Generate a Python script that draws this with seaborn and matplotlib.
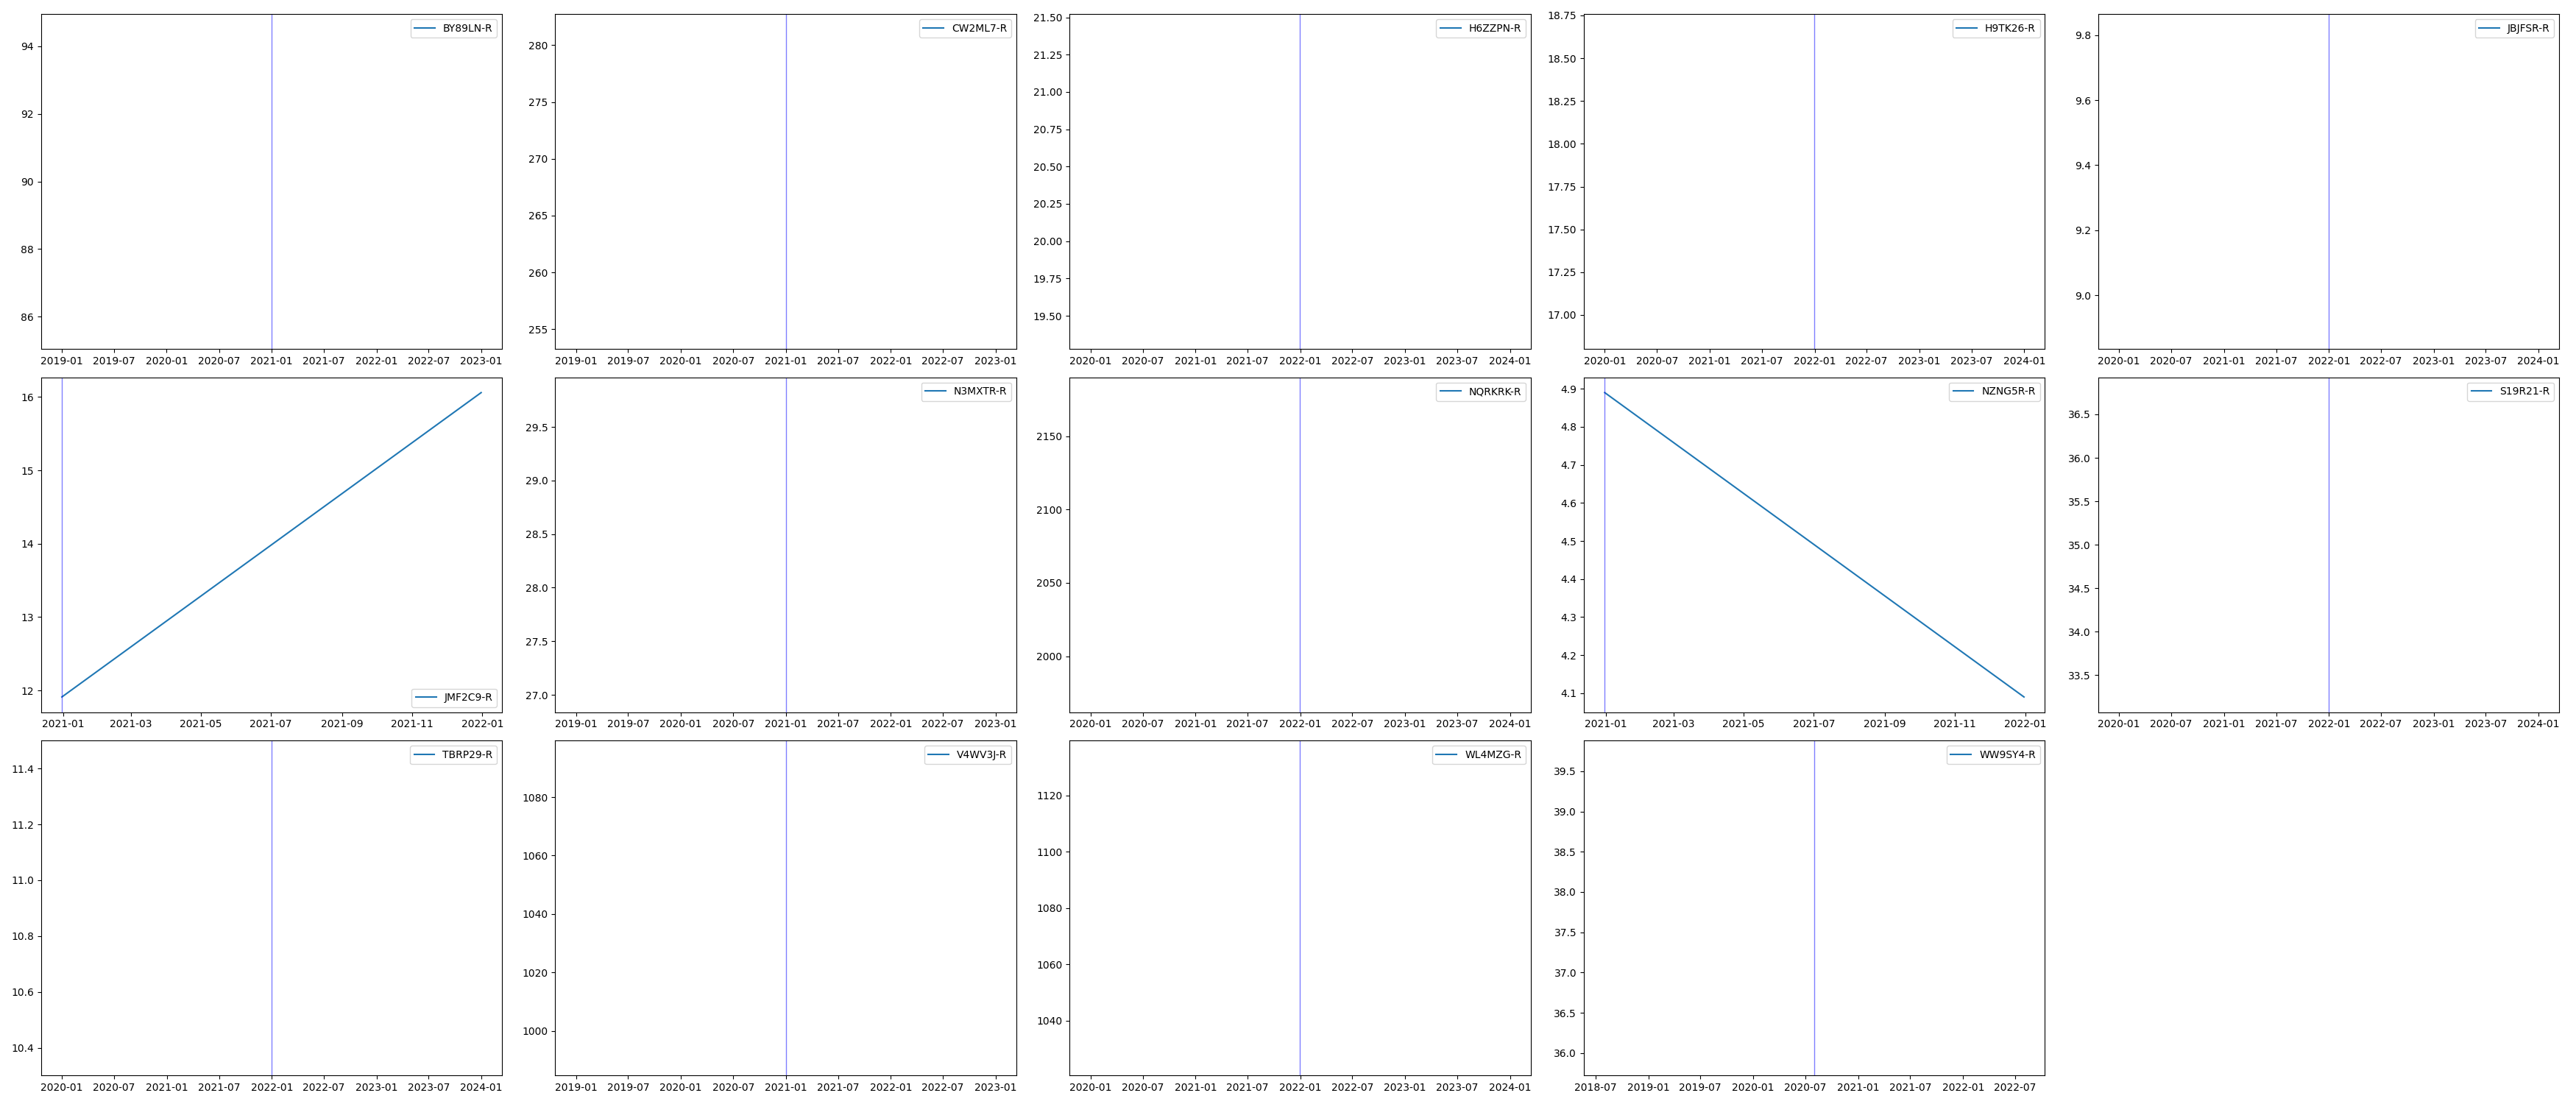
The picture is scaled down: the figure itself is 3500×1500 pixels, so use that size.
import pandas as pd
import numpy as np
import matplotlib
matplotlib.use('Agg')
import matplotlib.pyplot as plt
import seaborn as sns
import warnings
warnings.filterwarnings('ignore')

# Series shown in each panel
series_names = ['BY89LN-R', 'CW2ML7-R', 'H6ZZPN-R', 'H9TK26-R', 'JBJFSR-R',
                'JMF2C9-R', 'N3MXTR-R', 'NQRKRK-R', 'NZNG5R-R', 'S19R21-R',
                'TBRP29-R', 'V4WV3J-R', 'WL4MZG-R', 'WW9SY4-R']

series_dates = [
    ['2020-12-31'],
    ['2020-12-31'],
    ['2021-12-31'],
    ['2021-12-31'],
    ['2021-12-31'],
    ['2020-12-31', '2021-12-31'],
    ['2020-12-31'],
    ['2021-12-31'],
    ['2020-12-31', '2021-12-31'],
    ['2021-12-31'],
    ['2021-12-31'],
    ['2020-12-31'],
    ['2021-12-31'],
    ['2020-08-01'],
]

series_values = [
    [90.0],
    [268.0],
    [20.4],
    [17.78],
    [9.35],
    [11.91, 16.06],
    [28.4],
    [2076.0],
    [4.89, 4.09],
    [35.0],
    [10.9],
    [1042.0],
    [1080.0],
    [37.8],
]


def main():
    n_rows, n_cols = 3, 5
    fig, axes = plt.subplots(n_rows, n_cols, figsize=(35, 15))
    axes = axes.flatten()

    for i, name in enumerate(series_names):
        ax = axes[i]
        df = pd.DataFrame({
            'date': pd.to_datetime(series_dates[i]),
            'value': series_values[i],
        })
        sns.lineplot(data=df, x='date', y='value', ax=ax, label=name,
                     color='#1f77b4', linewidth=1.5)

        # mark the first observation
        ax.axvline(df['date'].iloc[0], color='blue', alpha=0.5, linewidth=1)

        ax.set_xlabel('')
        ax.set_ylabel('')
        ax.legend(loc='best')

    # drop unused panels
    for j in range(len(series_names), n_rows * n_cols):
        fig.delaxes(axes[j])

    plt.tight_layout()
    fig.savefig('out.png', dpi=100, facecolor='white')
    plt.close(fig)


if __name__ == "__main__":
    main()
